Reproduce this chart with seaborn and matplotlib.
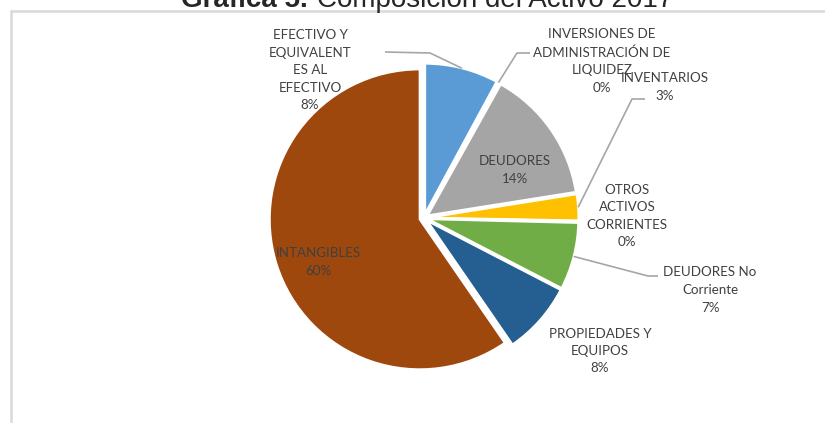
import numpy as np
import matplotlib
matplotlib.use("Agg")
import matplotlib.pyplot as plt
from matplotlib.lines import Line2D
import seaborn as sns

# data (percent of total assets)
categories = [
  "EFECTIVO Y\nEQUIVALENT\nES AL\nEFECTIVO",
  "INVERSIONES DE\nADMINISTRACIÓN DE\nLIQUIDEZ",
  "DEUDORES",
  "INVENTARIOS",
  "OTROS\nACTIVOS\nCORRIENTES",
  "DEUDORES No\nCorriente",
  "PROPIEDADES Y\nEQUIPOS",
  "INTANGIBLES",
]
values = [7.9, 0.2, 14.4, 2.8, 0.1, 7.2, 7.8, 59.6]
colors = ["#5B9BD5", "#A5A5A5", "#A5A5A5", "#FFC000", "#ED7D31", "#70AD47", "#255E91", "#9E480E"]

# label centres in pixels (x, y from top), one per category
label_pos = [(310, 70), (602, 61), (515, 170), (665, 87), (627, 216), (710, 290), (600, 351), (318, 262)]
# leader elbow points for the labels that have one
leaders = {
  0: [(430, 53), (385, 52)],
  1: [(517, 53), (530, 53)],
  3: [(632, 99), (645, 99)],
  5: [(648, 276), (658, 276)],
}

W, H = 825, 423
CX, CY, R = 424, 218, 150
explode_r = 0.03

sns.set_theme(style="white")
plt.rcParams["font.family"] = ["Lato", "DejaVu Sans"]

fig = plt.figure(figsize=(W / 100, H / 100), dpi=100)
lim = 1.25
ax = fig.add_axes([(CX - lim * R) / W, (H - CY - lim * R) / H, 2 * lim * R / W, 2 * lim * R / H])

wedges, _ = ax.pie(values, colors=colors, startangle=90, counterclock=False,
                   explode=[explode_r] * len(values), radius=1,
                   wedgeprops=dict(edgecolor="white", linewidth=1.5))
ax.set_xlim(-lim, lim)
ax.set_ylim(-lim, lim)
ax.set_aspect("equal")
ax.axis("off")


def to_data(p):
  return (p[0] - CX) / R, (CY - p[1]) / R


total = sum(values)
txt_color = "#404040"
for i, (name, v) in enumerate(zip(categories, values)):
  pct = f"{round(v / total * 100):.0f}%"
  x, y = to_data(label_pos[i])
  ax.text(x, y, f"{name}\n{pct}", ha="center", va="center", fontsize=9.6,
          color=txt_color, linespacing=1.55)
  if i in leaders:
    w = wedges[i]
    mid = np.deg2rad((w.theta1 + w.theta2) / 2)
    sx = (1 + explode_r) * np.cos(mid)
    sy = (1 + explode_r) * np.sin(mid)
    pts = [(sx, sy)] + [to_data(p) for p in leaders[i]]
    ax.plot([p[0] for p in pts], [p[1] for p in pts], color="#A6A6A6", lw=1.2,
            solid_capstyle="butt", clip_on=False)

# outer frame lines (left and top)
fig.add_artist(Line2D([11 / W, 11 / W], [0, 1 - 11 / H], color="#D9D9D9", lw=1.8))
fig.add_artist(Line2D([11 / W, 1], [1 - 11 / H, 1 - 11 / H], color="#D9D9D9", lw=1.8))

# title, cut off at the top of the image as in the original
fig.text(308 / W, 1 - 7 / H, "Gráfica 5.", ha="right", va="baseline",
         fontsize=20, fontweight="bold", family=["Liberation Sans", "DejaVu Sans"])
fig.text(317 / W, 1 - 7 / H, "Composición del Activo 2017", ha="left", va="baseline",
         fontsize=20, family=["Liberation Sans", "DejaVu Sans"])

fig.savefig("out.png", dpi=100, facecolor="white")
